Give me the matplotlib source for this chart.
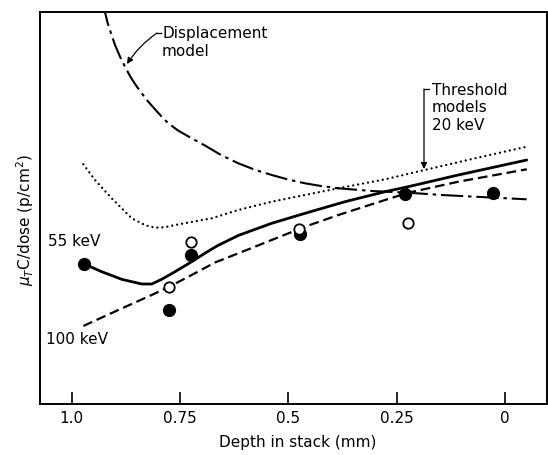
import matplotlib
matplotlib.use("Agg")
import matplotlib.pyplot as plt
import numpy as np

plt.rcParams['font.family'] = ['DejaVu Sans']
plt.rcParams['lines.scale_dashes'] = False

# ---- data (depth in mm, arbitrary units on y) ----
filled_depth = [0.971, 0.775, 0.725, 0.473, 0.231, 0.027]
filled_val = [3.58, 2.40, 3.80, 4.33, 5.35, 5.38]
open_depth = [0.775, 0.725, 0.475, 0.225]
open_val = [2.99, 4.14, 4.46, 4.63]

kev55_depth = [0.9709, 0.9308, 0.8846, 0.8384, 0.8154, 0.7923, 0.7616, 0.7231,
               0.6950, 0.6650, 0.6155, 0.5384, 0.4615, 0.3692, 0.2769, 0.2232, 0.1078, -0.0501]
kev55_val = [3.571, 3.375, 3.181, 3.061, 3.061, 3.181, 3.375, 3.630,
             3.830, 4.030, 4.300, 4.610, 4.865, 5.161, 5.416, 5.544, 5.842, 6.224]

kev100_depth = [0.9732, 0.8925, 0.8154, 0.7748, 0.7231, 0.6693, 0.6155, 0.5384,
                0.4615, 0.3847, 0.2769, 0.2232, 0.1078, -0.0501]
kev100_val = [1.990, 2.398, 2.781, 2.992, 3.291, 3.610, 3.844, 4.184,
              4.523, 4.821, 5.204, 5.390, 5.671, 5.987]

kev20_depth = [0.9732, 0.9462, 0.9077, 0.8615, 0.8300, 0.8078, 0.7850, 0.7616, 0.6769,
               0.6155, 0.5384, 0.4615, 0.3847, 0.2769, 0.1923, 0.0692, -0.0501]
kev20_val = [6.115, 5.714, 5.247, 4.737, 4.560, 4.497, 4.510, 4.566, 4.737,
             4.949, 5.161, 5.332, 5.503, 5.732, 5.952, 6.268, 6.564]

disp_depth = [0.9255, 0.9231, 0.9169, 0.9093, 0.9001, 0.8885, 0.8770, 0.8655,
              0.8539, 0.8385, 0.8232, 0.8078, 0.7923, 0.7771, 0.7540, 0.7231,
              0.6924, 0.6554, 0.6155, 0.5770, 0.5384, 0.5008, 0.4615, 0.4246,
              0.3847, 0.3076, 0.2232, 0.1461, 0.0692, -0.0501]
disp_val = [10.2, 9.992, 9.712, 9.457, 9.158, 8.860, 8.605, 8.367,
            8.163, 7.926, 7.712, 7.518, 7.329, 7.161, 6.972, 6.778,
            6.594, 6.352, 6.140, 5.974, 5.842, 5.727, 5.630, 5.561,
            5.503, 5.434, 5.390, 5.332, 5.288, 5.222]

xticks = [1.0, 0.75, 0.5, 0.25, 0]
xticklabels = ['1.0', '0.75', '0.5', '0.25', '0']

W, H = 548, 455
fig = plt.figure(figsize=(W / 100, H / 100), dpi=100)
ax = fig.add_axes([40 / W, 1 - 404 / H, 507 / W, 392 / H])


def fp(x, y):
    """image pixel -> figure fraction"""
    return (x / W, 1 - y / H)


ax.set_xlim(1.0732, -0.0969)
ax.set_ylim(0, 10)

ax.plot(disp_depth, disp_val, color='black', lw=1.5, dashes=(16, 3.5, 2.5, 3.5))
ax.plot(kev20_depth, kev20_val, color='black', lw=1.7, dashes=(0.01, 3.6),
        dash_capstyle='round')
ax.plot(kev55_depth, kev55_val, color='black', lw=2.0, solid_capstyle='round',
        solid_joinstyle='round')
ax.plot(kev100_depth, kev100_val, color='black', lw=1.6, dashes=(7, 3.5))

ax.plot(filled_depth, filled_val, 'o', color='black', ms=8.5, zorder=5)
ax.plot(open_depth, open_val, 'o', mfc='white', mec='black', mew=1.3, ms=7.5, zorder=6)

ax.set_xticks(xticks)
ax.set_xticklabels(xticklabels, fontsize=11)
ax.set_yticks([])
ax.tick_params(axis='x', direction='in', length=8.5, width=1.2, pad=5)
for s in ax.spines.values():
    s.set_linewidth(1.4)

fig.text(*fp(298, 442), 'Depth in stack (mm)', ha='center', va='center', fontsize=11)
fig.text(*fp(25, 220), r'$\mu_T$C/dose (p/cm$^2$)', ha='center', va='center',
         rotation=90, fontsize=11)

fig.text(*fp(48, 242), '55 keV', ha='left', va='center', fontsize=11)
fig.text(*fp(46, 340), '100 keV', ha='left', va='center', fontsize=11)

fig.text(*fp(162, 26), 'Displacement\nmodel', ha='left', va='top', fontsize=11,
         linespacing=1.25)
fig.text(*fp(432, 83), 'Threshold\nmodels\n20 keV', ha='left', va='top', fontsize=11,
         linespacing=1.2)

# leader lines
fig.add_artist(plt.Line2D([fp(161, 33)[0], fp(157, 33)[0]], [fp(161, 33)[1], fp(157, 33)[1]],
                          color='black', lw=0.9))
ax.annotate('', xy=fp(127, 64), xycoords='figure fraction',
            xytext=fp(157, 33), textcoords='figure fraction',
            arrowprops=dict(arrowstyle='-|>', color='black', lw=0.9,
                            mutation_scale=9, shrinkA=0, shrinkB=0,
                            connectionstyle='arc3,rad=0.1'))
fig.add_artist(plt.Line2D([fp(424, 89)[0], fp(429, 89)[0]], [fp(424, 89)[1], fp(429, 89)[1]],
                          color='black', lw=0.9))
ax.annotate('', xy=fp(424, 169), xycoords='figure fraction',
            xytext=fp(424, 89), textcoords='figure fraction',
            arrowprops=dict(arrowstyle='-|>', color='black', lw=0.9,
                            mutation_scale=9, shrinkA=0, shrinkB=0))

fig.savefig('out.png', dpi=100)
